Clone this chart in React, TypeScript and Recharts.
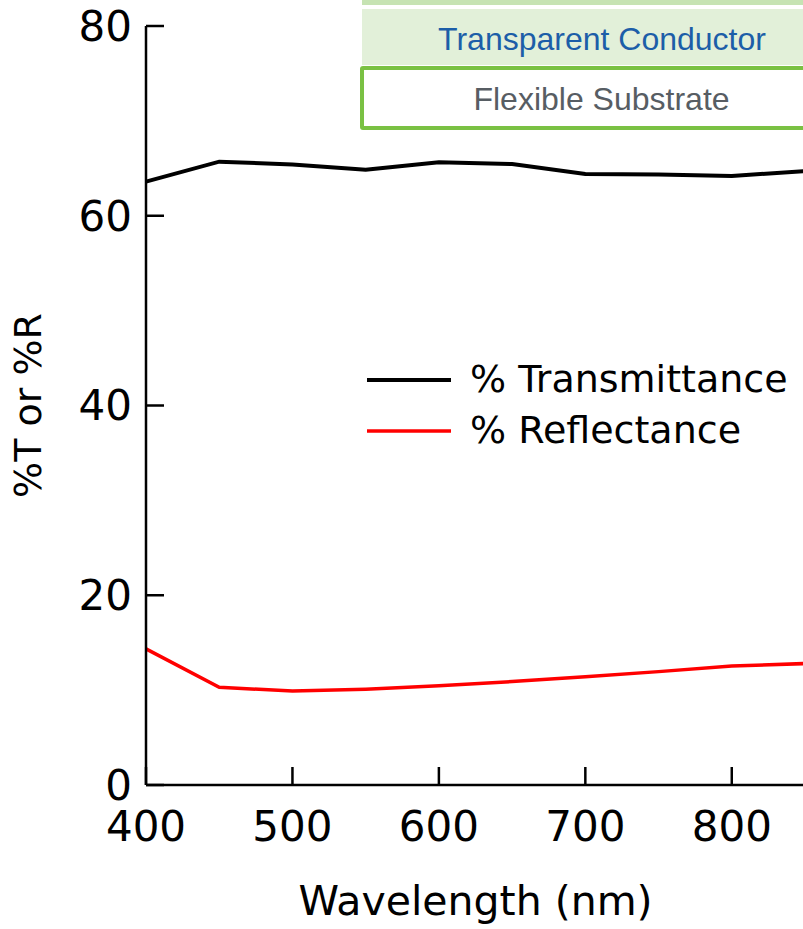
import React from 'react';
import { LineChart, Line, XAxis, YAxis, Legend } from 'recharts';

const wavelengths = [400, 450, 500, 550, 600, 650, 700, 750, 800, 850];
const transmittance = [63.6, 65.7, 65.4, 64.85, 65.65, 65.45, 64.4, 64.35, 64.2, 64.7];
const reflectance = [14.35, 10.3, 9.9, 10.1, 10.45, 10.9, 11.4, 11.95, 12.55, 12.8];
const xTicks = [400, 500, 600, 700, 800];
const yTicks = [0, 20, 40, 60, 80];
const seriesNames = ['% Transmittance', '% Reflectance'];
const layerLabels = ['Transparent Conductor', 'Flexible Substrate'];

const data = wavelengths.map((w, i) => ({ w, T: transmittance[i], R: reflectance[i] }));

const FONT = "'DejaVu Sans', Verdana, sans-serif";

const renderLegend = (props: any) => {
  const payload = [...(props.payload || [])].sort(
    (a: any, b: any) => seriesNames.indexOf(a.value) - seriesNames.indexOf(b.value)
  );
  return (
    <div style={{ fontFamily: FONT, fontSize: 38, color: '#000' }}>
      {payload.map((p: any, i: number) => (
        <div key={i} style={{ display: 'flex', alignItems: 'center', height: 51, lineHeight: '51px', whiteSpace: 'nowrap' }}>
          <svg width={84} height={8} style={{ display: 'block' }}>
            <line x1={0} y1={4} x2={84} y2={4} stroke={p.color} strokeWidth={i === 0 ? 4 : 3.5} />
          </svg>
          <span style={{ marginLeft: 19 }}>{p.value}</span>
        </div>
      ))}
    </div>
  );
};

export default function App() {
  return (
    <div style={{ position: 'absolute', left: 0, top: 0, width: 803, height: 929, overflow: 'hidden', background: '#fff' }}>
      <LineChart width={805} height={929} data={data} margin={{ top: 26, right: 0, left: 0, bottom: 0 }}>
        <XAxis
          dataKey="w"
          type="number"
          domain={[400, 850]}
          ticks={xTicks}
          height={144}
          tickSize={-18}
          tickMargin={44}
          axisLine={{ stroke: '#000', strokeWidth: 2.5 }}
          tickLine={{ stroke: '#000', strokeWidth: 2.5 }}
          tick={{ fill: '#000', fontSize: 42, fontFamily: FONT }}
          interval={0}
          label={{ value: 'Wavelength (nm)', position: 'insideBottom', offset: 14, fill: '#000', fontSize: 41, fontFamily: FONT }}
        />
        <YAxis
          type="number"
          domain={[0, 80]}
          ticks={yTicks}
          width={146}
          tickSize={-18}
          tickMargin={32}
          axisLine={{ stroke: '#000', strokeWidth: 2.5 }}
          tickLine={{ stroke: '#000', strokeWidth: 2.5 }}
          tick={{ fill: '#000', fontSize: 42, fontFamily: FONT }}
          interval={0}
          label={{ value: '%T or %R', angle: -90, position: 'insideLeft', offset: 28, fill: '#000', fontSize: 38, fontFamily: FONT, style: { textAnchor: 'middle' } }}
        />
        <Legend
          layout="vertical"
          align="center"
          verticalAlign="middle"
          content={renderLegend}
          wrapperStyle={{ position: 'absolute', left: 367, top: 354, width: 'auto', height: 'auto' }}
        />
        <Line type="linear" dataKey="T" name={seriesNames[0]} stroke="#000" strokeWidth={4} dot={false} isAnimationActive={false} />
        <Line type="linear" dataKey="R" name={seriesNames[1]} stroke="#ff0000" strokeWidth={3.5} dot={false} isAnimationActive={false} />
      </LineChart>
      <div style={{ position: 'absolute', left: 362, top: 0, width: 480, height: 5, background: '#c6e3b3' }} />
      <div style={{ position: 'absolute', left: 362, top: 9, width: 480, height: 56, background: '#e2f0d9', boxSizing: 'border-box', paddingTop: 2, textAlign: 'center', fontFamily: "'Liberation Sans', Arial, sans-serif", fontSize: 32, lineHeight: '56px', color: '#1c5ea8', whiteSpace: 'nowrap' }}>
        {layerLabels[0]}
      </div>
      <div style={{ position: 'absolute', left: 360, top: 66, width: 483, height: 64, background: '#fff', border: '4px solid #7ac143', borderRadius: 3, boxSizing: 'border-box', paddingTop: 1, textAlign: 'center', fontFamily: "'Liberation Sans', Arial, sans-serif", fontSize: 32, lineHeight: '56px', color: '#575d63', whiteSpace: 'nowrap' }}>
        {layerLabels[1]}
      </div>
    </div>
  );
}
